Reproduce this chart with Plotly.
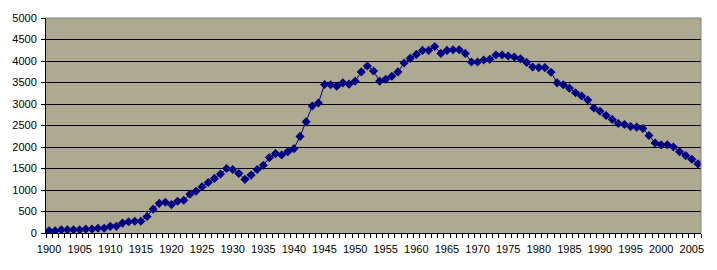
import plotly.graph_objects as go

years = list(range(1900, 2007))
values = [
    50, 50, 75, 75, 75, 75, 90, 90, 110, 110,
    155, 155, 230, 260, 275, 275, 385, 555, 690, 715,
    660, 740, 760, 900, 970, 1075, 1175, 1270, 1370, 1500,
    1475, 1385, 1246, 1346, 1477, 1577, 1754, 1846, 1815, 1892,
    1962, 2246, 2585, 2954, 3023, 3454, 3446, 3415, 3492, 3462,
    3531, 3746, 3885, 3769, 3531, 3577, 3646, 3746, 3954, 4062,
    4154, 4246, 4246, 4338, 4177, 4246, 4262, 4262, 4177, 3977,
    3977, 4023, 4038, 4138, 4138, 4115, 4092, 4054, 3969, 3862,
    3846, 3846, 3738, 3492, 3446, 3369, 3262, 3185, 3092, 2908,
    2831, 2731, 2638, 2546, 2523, 2477, 2462, 2431, 2269, 2092,
    2054, 2054, 2000, 1892, 1800, 1715, 1608,
]
x_tick_vals = list(range(1900, 2006, 5))
x_tick_text = [str(v) for v in x_tick_vals]
y_tick_vals = list(range(0, 5001, 500))

fig = go.Figure()
fig.add_trace(go.Scatter(
    x=years, y=values, mode="lines+markers",
    line=dict(color="#000080", width=1),
    marker=dict(symbol="diamond", size=7, color="#000080", line=dict(width=0)),
    showlegend=False, hoverinfo="x+y",
))

border = dict(color="#808080", width=1)
fig.update_layout(
    width=717, height=270,
    margin=dict(l=43, r=16, t=17, b=37),
    paper_bgcolor="white",
    plot_bgcolor="#aeaa92",
    font=dict(family="Liberation Sans, Arial, sans-serif", size=11, color="black"),
    shapes=[
        dict(type="line", xref="x domain", yref="y domain", x0=0, x1=1, y0=1, y1=1,
             line=border, layer="above"),
        dict(type="line", xref="x domain", yref="y domain", x0=1, x1=1, y0=0, y1=1,
             line=border, layer="above"),
    ],
)
fig.update_xaxes(
    range=[1899.5, 2006.5],
    tickmode="array", tickvals=x_tick_vals, ticktext=x_tick_text,
    ticks="", showgrid=False, zeroline=False,
    showline=True, linecolor="black", linewidth=1,
    minor=dict(tickmode="linear", tick0=1899.5, dtick=1, ticks="outside",
               ticklen=4, tickcolor="black", showgrid=False),
    ticklabelstandoff=6,
)
fig.update_yaxes(
    range=[0, 5000],
    tickmode="array", tickvals=y_tick_vals,
    ticks="outside", ticklen=4, tickcolor="black",
    showgrid=True, gridcolor="black", gridwidth=1,
    zeroline=False, showline=True, linecolor="black", linewidth=1,
    ticklabelstandoff=2,
)

fig.write_html("out.html")
